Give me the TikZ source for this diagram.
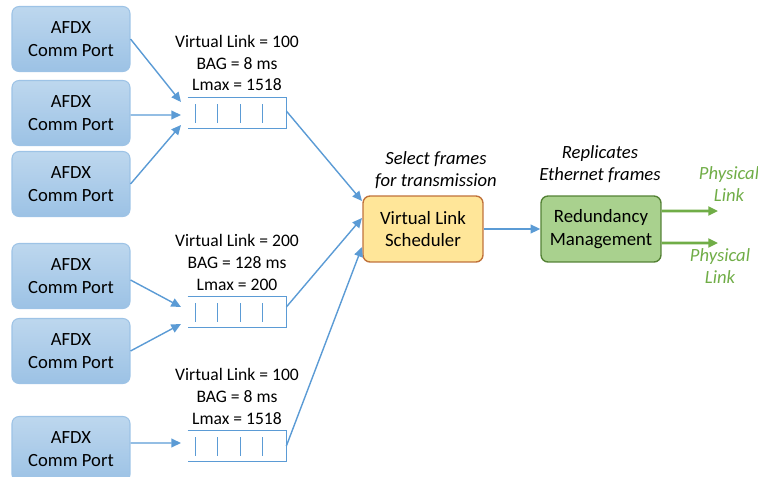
\documentclass[tikz,border=0pt]{standalone}
\usepackage{fontspec}
\setmainfont{Carlito}
\usetikzlibrary{positioning, arrows.meta, shapes}
\definecolor{linkblue}{HTML}{5B9BD5}
\definecolor{porttop}{HTML}{BDD7EE}
\definecolor{portbot}{HTML}{9CC2E5}
\definecolor{portedge}{HTML}{9DC3E6}
\definecolor{schedfill}{HTML}{FFE699}
\definecolor{schededge}{HTML}{C0723A}
\definecolor{redfill}{HTML}{A9D18E}
\definecolor{rededge}{HTML}{548235}
\definecolor{phygreen}{HTML}{70AD47}
\tikzset{
  port/.style={rectangle, rounded corners=4pt, draw=portedge, line width=0.6pt,
    top color=porttop, bottom color=portbot, minimum width=2.36cm,
    minimum height=1.3cm, align=center, inner sep=0pt,
    font=\fontsize{10.6}{12.8}\selectfont},
  queue/.style={rectangle, minimum width=1.96cm, minimum height=0.6cm, inner sep=0pt},
  block/.style={rectangle, rounded corners=4pt, line width=0.8pt, minimum width=2.4cm,
    minimum height=1.32cm, align=center, inner sep=0pt,
    font=\fontsize{10.7}{13}\selectfont},
  vlabel/.style={align=center, inner sep=0pt},
  note/.style={align=center, inner sep=0pt, font=\itshape\fontsize{10.6}{12.5}\selectfont},
  flow/.style={draw=linkblue, line width=0.8pt, -{Triangle[length=5.5pt,width=5pt]}},
  phy/.style={draw=phygreen, line width=1.5pt, -{Triangle[length=5.5pt,width=5pt]}}}

\begin{document}
\begin{tikzpicture}[x=0.02cm, y=-0.02cm, font=\fontsize{10}{12.5}\selectfont]
  \useasboundingbox (0,0) rectangle (758,477);
  \clip (0,0) rectangle (758,477);
  % comm ports
  \node[port] (p1) at (71,39) {AFDX\\Comm Port};
  \node[port] (p2) at (71,113) {AFDX\\Comm Port};
  \node[port] (p3) at (71,184) {AFDX\\Comm Port};
  \node[port] (p4) at (71,276) {AFDX\\Comm Port};
  \node[port] (p5) at (71,351) {AFDX\\Comm Port};
  \node[port] (p6) at (71,449) {AFDX\\Comm Port};
  % virtual link queues
  \foreach \n/\y in {q1/113, q2/312, q3/446} {
    \node[queue] (\n) at (237,\y) {};
    \draw[linkblue, line width=0.8pt] (\n.north west) -- (\n.north east)
      -- (\n.south east) -- (\n.south west);
    \foreach \d in {8,30,53,75}
      \draw[linkblue, line width=0.8pt] ([xshift=\d*0.02cm, yshift=-0.13cm]\n.north west)
        -- ([xshift=\d*0.02cm, yshift=0.11cm]\n.south west);
  }
  \node[vlabel] (l1) at (237,63) {Virtual Link = 100\\BAG = 8 ms\\Lmax = 1518};
  \node[vlabel] (l2) at (237,262) {Virtual Link = 200\\BAG = 128 ms\\Lmax = 200};
  \node[vlabel] (l3) at (237,396) {Virtual Link = 100\\BAG = 8 ms\\Lmax = 1518};
  % scheduler and redundancy
  \node[block, draw=schededge, fill=schedfill] (sched) at (423,229) {Virtual Link\\Scheduler};
  \node[block, draw=rededge, fill=redfill] (red) at (601,229) {Redundancy\\Management};
  \node[note] (selnote) at (436,170) {Select frames\\for transmission};
  \node[note] (repnote) at (600,164) {Replicates\\Ethernet frames};
  \node[note, text=phygreen] (phy1) at (729,184) {Physical\\Link};
  \node[note, text=phygreen] (phy2) at (720,266) {Physical\\Link};
  % arrow ends
  \coordinate (q1a) at (181,102);
  \coordinate (q1b) at (181,115);
  \coordinate (q1c) at (181,125);
  \coordinate (q2a) at (181,307);
  \coordinate (q2b) at (181,324);
  \coordinate (q3a) at (181,443);
  \coordinate (s1) at (362,201);
  \coordinate (s2) at (362,218);
  \coordinate (s3) at (362,247);
  \coordinate (o1) at (718,211);
  \coordinate (o2) at (718,243);
  \draw[flow] (p1.east) -- (q1a);
  \draw[flow] ([yshift=-0.04cm]p2.east) -- (q1b);
  \draw[flow] (p3.east) -- (q1c);
  \draw[flow] ([yshift=-0.08cm]p4.east) -- (q2a);
  \draw[flow] (p5.east) -- (q2b);
  \draw[flow] ([yshift=0.12cm]p6.east) -- (q3a);
  \draw[flow] ([yshift=0.04cm]q1.east) -- (s1);
  \draw[flow] ([yshift=0.1cm]q2.east) -- (s2);
  \draw[flow] (q3.east) -- (s3);
  \draw[flow] (sched.east) -- (red.west);
  \draw[phy] ([yshift=0.36cm]red.east) -- (o1);
  \draw[phy] ([yshift=-0.28cm]red.east) -- (o2);
\end{tikzpicture}
\end{document}
